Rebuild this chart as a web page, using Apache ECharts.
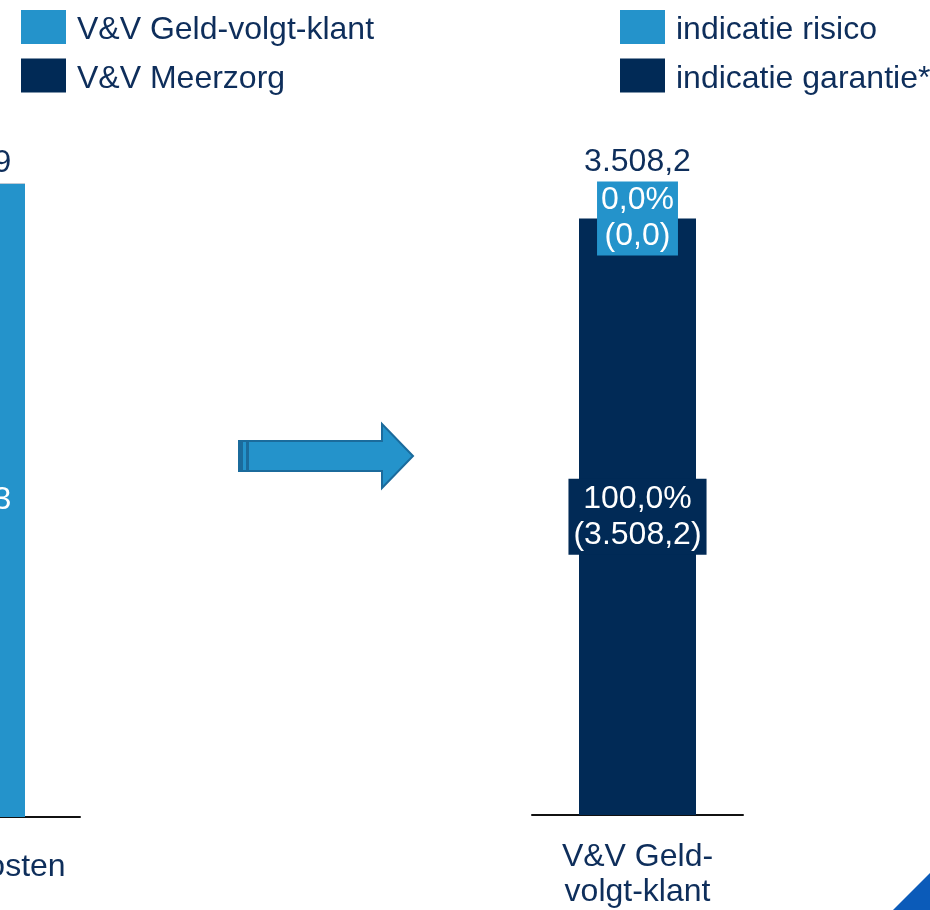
<!DOCTYPE html>
<html>
<head>
<meta charset="utf-8">
<script src="https://cdn.jsdelivr.net/npm/echarts@6/dist/echarts.min.js"></script>
<style>
html,body{margin:0;padding:0;background:#fff;overflow:hidden;width:930px;height:910px;}
#wrap{position:relative;width:930px;height:910px;overflow:hidden;}
#c{position:absolute;left:-164px;top:0;width:1094px;height:910px;}
</style>
</head>
<body>
<div id="wrap"><div id="c"></div></div>
<script>
// ---- data ----
const leftCategories = ['Begrote kosten'];
const leftGeldVolgtKlant = [3713.3];
const leftMeerzorg = [0.6];
const rightCategories = ['V&V Geld-\nvolgt-klant'];
const rightGarantie = [3508.2];
const rightRisico = [0.0];
const leftLegend = ['V&V Geld-volgt-klant', 'V&V Meerzorg'];
const rightLegend = ['indicatie risico', 'indicatie garantie*'];

// ---- styling ----
const X0 = 164; // chart canvas starts 164px left of the visible page
const LIGHT = '#2493CB';
const DARK = '#012A56';
const TEXT = '#0E2E5B';
const FONT = '"Liberation Sans", Arial, sans-serif';
const FS = 32;

function fmt(v) {
  const s = Math.abs(v).toFixed(1);
  let [i, d] = s.split('.');
  i = i.replace(/\B(?=(\d{3})+(?!\d))/g, '.');
  return (v < 0 ? '-' : '') + i + ',' + d;
}

const leftTotal = leftGeldVolgtKlant.map((v, k) => v + leftMeerzorg[k]);
const rightTotal = rightGarantie.map((v, k) => v + rightRisico[k]);

const chart = echarts.init(document.getElementById('c'), null, {renderer: 'canvas'});

const baseLabel = {fontFamily: FONT, fontSize: FS, lineHeight: 36};
const P = pts => pts.map(p => [p[0] + X0, p[1]]);

const legendText = {
  fontSize: FS, color: TEXT, fontFamily: FONT,
  rich: {a: {fontSize: FS, color: TEXT, fontFamily: FONT, padding: [7, 0, 0, 6]}}
};

const option = {
  animation: false,
  textStyle: {fontFamily: FONT},
  legend: [
    {
      data: leftLegend, orient: 'vertical', left: 16 + X0, top: 5,
      itemWidth: 45, itemHeight: 34, itemGap: 12, icon: 'rect',
      formatter: n => '{a|' + n + '}', textStyle: legendText,
      selectedMode: false
    },
    {
      data: rightLegend, orient: 'vertical', left: 615 + X0, top: 5,
      itemWidth: 45, itemHeight: 34, itemGap: 12, icon: 'rect',
      formatter: n => '{a|' + n + '}', textStyle: legendText,
      selectedMode: false
    }
  ],
  grid: [
    {left: -164 + X0, width: 244, top: 135, height: 682},
    {left: 532 + X0, width: 211, top: 135, height: 682}
  ],
  xAxis: [
    {
      type: 'category', gridIndex: 0, data: leftCategories,
      axisLine: {lineStyle: {color: '#111', width: 2}},
      axisTick: {show: false},
      axisLabel: {color: TEXT, fontSize: FS, fontFamily: FONT, margin: 33, lineHeight: 35}
    },
    {
      type: 'category', gridIndex: 1, data: rightCategories,
      axisLine: {lineStyle: {color: '#111', width: 2}},
      axisTick: {show: false},
      axisLabel: {color: TEXT, fontSize: FS, fontFamily: FONT, margin: 25, lineHeight: 35}
    }
  ],
  yAxis: [
    {type: 'value', gridIndex: 0, min: 0, max: 4000, show: false, splitLine: {show: false}},
    {type: 'value', gridIndex: 1, min: 0, max: 4000, show: false, splitLine: {show: false}}
  ],
  series: [
    {
      name: leftLegend[0], type: 'bar', stack: 'L', xAxisIndex: 0, yAxisIndex: 0,
      barWidth: 134, data: leftGeldVolgtKlant, itemStyle: {color: LIGHT},
      label: Object.assign({}, baseLabel, {show: true, position: 'inside', color: '#fff',
        formatter: p => fmt(p.value)})
    },
    {
      name: leftLegend[1], type: 'bar', stack: 'L', xAxisIndex: 0, yAxisIndex: 0,
      barWidth: 134, data: leftMeerzorg, itemStyle: {color: DARK}
    },
    {
      name: 'totaalL', type: 'bar', stack: 'L', xAxisIndex: 0, yAxisIndex: 0,
      barWidth: 134, data: leftTotal.map(() => 0), itemStyle: {color: 'transparent'},
      label: Object.assign({}, baseLabel, {show: true, position: 'top', distance: 3, color: TEXT,
        formatter: p => fmt(leftTotal[p.dataIndex])})
    },
    {
      name: rightLegend[1], type: 'bar', stack: 'R', xAxisIndex: 1, yAxisIndex: 1,
      barWidth: 117, data: rightGarantie, itemStyle: {color: DARK},
      label: Object.assign({}, baseLabel, {show: true, position: 'inside', color: '#fff',
        backgroundColor: DARK, padding: [2, 5],
        formatter: p => fmt(p.value / rightTotal[p.dataIndex] * 100) + '%\n(' + fmt(p.value) + ')'})
    },
    {
      name: rightLegend[0], type: 'bar', stack: 'R', xAxisIndex: 1, yAxisIndex: 1,
      barWidth: 117, data: rightRisico, itemStyle: {color: LIGHT},
      label: Object.assign({}, baseLabel, {show: true, position: 'inside', color: '#fff',
        backgroundColor: LIGHT, padding: [1, 4],
        formatter: p => fmt(p.value / rightTotal[p.dataIndex] * 100) + '%\n(' + fmt(p.value) + ')'})
    },
    {
      name: 'totaalR', type: 'bar', stack: 'R', xAxisIndex: 1, yAxisIndex: 1,
      barWidth: 117, data: rightTotal.map(() => 0), itemStyle: {color: 'transparent'},
      label: Object.assign({}, baseLabel, {show: true, position: 'top', distance: 38, color: TEXT,
        formatter: p => fmt(rightTotal[p.dataIndex])})
    }
  ],
  graphic: [
    {
      type: 'polygon',
      shape: {points: P([[239, 441], [382, 441], [382, 424], [413, 456], [382, 488], [382, 471], [239, 471]])},
      style: {fill: LIGHT, stroke: '#1B6B9C', lineWidth: 2}
    },
    {type: 'rect', shape: {x: 239 + X0, y: 441, width: 4, height: 30}, style: {fill: '#1B6B9C'}},
    {type: 'rect', shape: {x: 246 + X0, y: 441, width: 3, height: 30}, style: {fill: '#1B6B9C'}},
    {
      type: 'polygon',
      shape: {points: P([[930, 873], [930, 910], [893, 910]])},
      style: {fill: '#0B5BB9'}
    }
  ]
};
chart.setOption(option);
</script>
</body>
</html>
